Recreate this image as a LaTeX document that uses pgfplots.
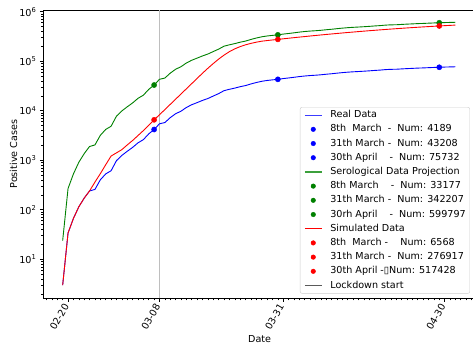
\documentclass[border=0pt]{standalone}
\usepackage{pgfplots}
\usepackage{pgfplotstable}
\pgfplotsset{compat=1.18}
\usepackage{fontspec}
\setmainfont{DejaVu Sans}
\definecolor{mblue}{RGB}{0,0,255}
\definecolor{mgreen}{RGB}{0,128,0}
\definecolor{mred}{RGB}{255,0,0}
\definecolor{vgray}{RGB}{190,190,190}
\definecolor{lgray}{RGB}{90,90,90}
\definecolor{lblue}{RGB}{60,60,255}
\definecolor{lgreen}{RGB}{60,160,60}
\pgfplotstableread{
day real sero sim
-1 3 23.76 3
0 34 269.3 34
1 67 530.6 67
2 115 910.8 115
3 172 1362 172
4 240 1901 240
5 258 2043 363
6 403 3192 537
7 531 4206 813
8 615 4871 1220
9 984 7793 1413
10 1254 9932 1641
11 1520 12038 2042
12 1820 14414 2512
13 2251 17828 3162
14 2612 20687 3981
15 3420 27086 5129
16 4189 33177 6568
17 5469 43314 8318
18 5791 45865 10593
19 7280 57658 13490
20 8725 69102 17179
21 9820 77774 21878
22 11685 92545 27861
23 13272 105114 35481
24 14649 116020 45186
25 16220 128462 57544
26 17713 140287 72444
27 19884 157481 90157
28 22264 176331 110917
29 25515 202079 133352
30 27206 215472 156675
31 28761 227787 178649
32 30703 243168 198153
33 32346 256180 215278
34 34889 276321 230144
35 37298 295400 243220
36 39415 312167 254683
37 41007 324775 262422
38 42161 333915 269774
39 43208 342207 276917
40 44773 354602 284600
41 46065 364835 292400
42 47520 376358 300300
43 49118 389015 308200
44 50455 399604 316100
45 51534 408149 324200
46 52325 414414 332300
47 53414 423039 340400
48 54802 434032 348600
49 56048 443900 356900
50 57592 456129 365100
51 59052 467692 373400
52 60314 477687 381700
53 61326 485702 389900
54 62153 492252 398300
55 63094 499704 406500
56 64135 507949 414900
57 65381 517818 423100
58 66412 525983 431300
59 67931 538014 439500
60 68824 545086 447600
61 69092 547209 455700
62 70161 555675 463700
63 71140 563429 471700
64 71969 569994 479600
65 72889 577281 487300
66 73479 581954 495000
67 74348 588836 502600
68 75134 595061 510000
69 75732 599797 517400
70 76469 605634 524600
71 77002 609856 531700
72 77528 614022 538500
}\datatable
\begin{document}
\begin{tikzpicture}[font=\fontsize{9.6bp}{11.5bp}\selectfont]
\useasboundingbox (-43.3bp,-45.7bp) rectangle (429.7bp,298.3bp);
\clip (-43.3bp,-45.7bp) rectangle (429.7bp,298.3bp);
\begin{axis}[
  at={(0,0)}, anchor=south west,
  scale only axis, width=432.7bp, height=288.3bp,
  ymode=log,
  xmin=-4.6, xmax=75.83,
  ymin=1.63, ymax=1.087e6,
  axis line style={black, line width=0.8bp},
  xtick pos=bottom, ytick pos=left,
  tick align=outside,
  major tick length=3.5bp, minor tick length=2bp,
  xtick style={black, line width=0.6bp},
  ytick style={black, line width=0.6bp},
  xtick={0,17,40,70},
  xticklabels={02-20,03-08,03-31,04-30},
  minor xtick={-4,-3,...,75},
  xticklabel style={rotate=60, anchor=east},
  ytick={10,100,1000,10000,100000,1000000},
  yticklabels={10\textsuperscript{1},10\textsuperscript{2},10\textsuperscript{3},10\textsuperscript{4},10\textsuperscript{5},10\textsuperscript{6}},
  minor ytick={2,3,4,5,6,7,8,9,20,30,40,50,60,70,80,90,200,300,400,500,600,700,800,900,2000,3000,4000,5000,6000,7000,8000,9000,20000,30000,40000,50000,60000,70000,80000,90000,200000,300000,400000,500000,600000,700000,800000,900000},
  xlabel={Date}, ylabel={Positive Cases},
  xlabel style={at={(axis description cs:0.5,-0.1422)}, anchor=center},
  ylabel style={at={(axis description cs:-0.069,0.5)}, anchor=center, rotate=0},
  legend cell align=left,
  legend style={at={(0.9861,0.6635)}, anchor=north east, draw=black!20, rounded corners=2bp, fill=white, inner xsep=4bp, inner ysep=0.8bp, row sep=0pt, nodes={inner sep=0pt, text height=9.6bp, text depth=4.6bp}, /tikz/every odd column/.append style={column sep=8bp}},
]
\addplot[forget plot, vgray, line width=1.8bp] coordinates {(17,1.63) (17,1.087e6)};
\addplot[forget plot, draw=mblue, line width=0.9bp] table[x=day, y=real] {\datatable};
\addplot[forget plot, draw=mgreen, line width=0.9bp] table[x=day, y=sero] {\datatable};
\addplot[forget plot, draw=mred, line width=0.9bp] table[x=day, y=sim] {\datatable};
\addplot[forget plot, only marks, mark=*, mark size=2.6bp, draw=mblue, fill=mblue] coordinates {(16,4189) (39,43208) (69,75732)};
\addplot[forget plot, only marks, mark=*, mark size=2.6bp, draw=mgreen, fill=mgreen] coordinates {(16,33177) (39,342207) (69,599797)};
\addplot[forget plot, only marks, mark=*, mark size=2.6bp, draw=mred, fill=mred] coordinates {(16,6568) (39,276917) (69,517428)};
\addlegendimage{draw=lblue, line width=1.2bp}
\addlegendentry{Real Data}
\addlegendimage{only marks, mark=*, mark size=2.3bp, draw=mblue, fill=mblue}
\addlegendentry{8th~ March~ -~ Num: 4189}
\addlegendimage{only marks, mark=*, mark size=2.3bp, draw=mblue, fill=mblue}
\addlegendentry{31th March -~ Num: 43208}
\addlegendimage{only marks, mark=*, mark size=2.3bp, draw=mblue, fill=mblue}
\addlegendentry{30th April~ ~ -~ Num: 75732}
\addlegendimage{draw=lgreen, line width=1.2bp}
\addlegendentry{Serological Data Projection}
\addlegendimage{only marks, mark=*, mark size=2.3bp, draw=mgreen, fill=mgreen}
\addlegendentry{8th March~ ~ -~ Num: 33177}
\addlegendimage{only marks, mark=*, mark size=2.3bp, draw=mgreen, fill=mgreen}
\addlegendentry{31th March -~ Num: 342207}
\addlegendimage{only marks, mark=*, mark size=2.3bp, draw=mgreen, fill=mgreen}
\addlegendentry{30rh April~ ~ -~ Num: 599797}
\addlegendimage{draw=mred, line width=1.2bp}
\addlegendentry{Simulated Data}
\addlegendimage{only marks, mark=*, mark size=2.3bp, draw=mred, fill=mred}
\addlegendentry{8th~ March -~ ~ Num: 6568}
\addlegendimage{only marks, mark=*, mark size=2.3bp, draw=mred, fill=mred}
\addlegendentry{31th March -~ Num: 276917}
\addlegendimage{only marks, mark=*, mark size=2.3bp, draw=mred, fill=mred}
\addlegendentry{30th April -▯Num: 517428}
\addlegendimage{draw=lgray, line width=0.8bp}
\addlegendentry{Lockdown start}
\end{axis}
\end{tikzpicture}
\end{document}
